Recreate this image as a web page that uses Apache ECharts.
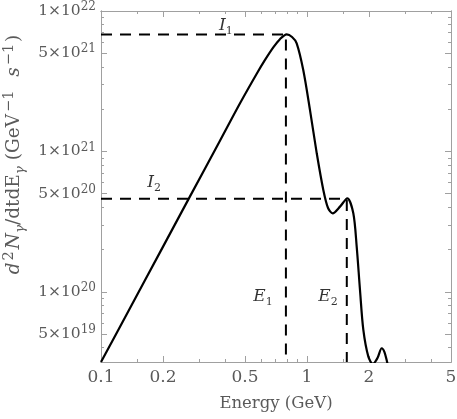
<!DOCTYPE html>
<html>
<head>
<meta charset="utf-8">
<script src="https://cdn.jsdelivr.net/npm/echarts@6/dist/echarts.min.js"></script>
<style>
  html, body { margin: 0; padding: 0; background: #fff; }
  #chart { width: 457px; height: 419px; }
</style>
</head>
<body>
<div id="chart"></div>
<script>
// spectrum (GeV, photons / GeV / s)
const energy = [0.1, 0.138, 0.193, 0.27, 0.378, 0.473, 0.57, 0.62, 0.686, 0.739, 0.797, 0.846, 0.891, 0.959, 1.034, 1.115, 1.2, 1.265, 1.333, 1.446, 1.569, 1.678, 1.743, 1.808, 1.877, 1.985, 2.089, 2.198, 2.305, 2.377, 2.455, 2.53];
const flux = [3.16e19, 7.6e19, 1.9e20, 4.76e20, 1.19e21, 2.2e21, 3.57e21, 4.39e21, 5.5e21, 6.3e21, 6.82e21, 6.53e21, 5.89e21, 3.8e21, 1.97e21, 9.69e20, 5.31e20, 3.95e20, 3.62e20, 4.04e20, 4.63e20, 3.62e20, 2.09e20, 1.03e20, 5.35e19, 3.45e19, 3.06e19, 3.37e19, 3.96e19, 3.72e19, 3.11e19, 2.7e19];

// the two marked peaks
const peakE = [0.79, 1.56];
const peakI = [6.8e21, 4.6e20];

// annotations
const noteLabels = ['I1', 'I2', 'E1', 'E2'];
const noteE = [0.404, 0.181, 0.611, 1.265];
const noteI = [7.9e21, 5.96e20, 9.2e19, 9.2e19];

// axes
const X_MIN = 0.1, X_MAX = 5;
const Y_MIN = 3.16e19, Y_MAX = 1e22;
const xMajor = [0.1, 0.2, 0.5, 1, 2, 5];
const xMinor = [0.15, 0.3, 0.4, 0.6, 0.7, 0.8, 0.9, 1.5, 3, 4];
const yMajor = [5e19, 1e20, 5e20, 1e21, 5e21, 1e22];
const yMinor = [4e19, 6e19, 7e19, 8e19, 9e19, 2e20, 3e20, 4e20, 6e20, 7e20, 8e20, 9e20, 2e21, 3e21, 4e21, 6e21, 7e21, 8e21, 9e21];

const lg = Math.log10;
const serif = 'DejaVu Serif';
const frameGray = '#a0a0a0';
const textGray = '#5a5a5a';

function xFmt(v) {
  return String(+Math.pow(10, v).toPrecision(3));
}

function yFmt(v) {
  const e = Math.floor(v + 1e-9);
  const m = Math.round(Math.pow(10, v - e));
  return '{m|' + m + '×10}{e|' + e + '}';
}

function makeAxis(dir, position, ticks, len, labels) {
  const isX = dir === 'x';
  const axis = {
    type: 'value',
    position: position,
    min: isX ? lg(X_MIN) : lg(Y_MIN),
    max: isX ? lg(X_MAX) : lg(Y_MAX),
    axisLine: { show: true, onZero: false, lineStyle: { color: frameGray, width: 1 } },
    axisTick: {
      show: true,
      inside: true,
      length: len,
      customValues: ticks.map(lg),
      lineStyle: { color: frameGray, width: 1 },
    },
    axisLabel: { show: false },
    splitLine: { show: false },
  };
  if (labels) {
    axis.axisLabel = isX
      ? {
          show: true,
          customValues: ticks.map(lg),
          formatter: xFmt,
          margin: 7,
          color: textGray,
          fontFamily: serif,
          fontSize: 17,
        }
      : {
          show: true,
          customValues: ticks.map(lg),
          formatter: yFmt,
          margin: 5,
          rich: {
            m: { fontFamily: serif, fontSize: 15.5, color: textGray, lineHeight: 20 },
            e: { fontFamily: serif, fontSize: 12, color: textGray, lineHeight: 12, verticalAlign: 'top' },
          },
        };
  }
  return axis;
}

const xAxes = [
  makeAxis('x', 'bottom', xMajor, 6, true),
  makeAxis('x', 'bottom', xMinor, 3, false),
  makeAxis('x', 'top', xMajor, 6, false),
  makeAxis('x', 'top', xMinor, 3, false),
];
xAxes[0].name = 'Energy (GeV)';
xAxes[0].nameLocation = 'middle';
xAxes[0].nameGap = 33;
xAxes[0].nameTextStyle = { fontFamily: serif, fontSize: 16.5, color: textGray };

const yAxes = [
  makeAxis('y', 'left', yMajor, 6, true),
  makeAxis('y', 'left', yMinor, 3, false),
  makeAxis('y', 'right', yMajor, 6, false),
  makeAxis('y', 'right', yMinor, 3, false),
];
yAxes[0].name = '{i|d}{sup|2}{i|N}{sub|γ}{r|/dtdE}{sub|γ}{r| (GeV}{sup|−1}{r|  }{i|s}{sup|−1}{r|)}';
yAxes[0].nameLocation = 'middle';
yAxes[0].nameGap = 72;
yAxes[0].nameRotate = 90;
yAxes[0].nameTextStyle = {
  padding: [0, 0, 0, 64],
  rich: {
    r: { fontFamily: serif, fontSize: 18.5, color: textGray, lineHeight: 26 },
    i: { fontFamily: serif, fontSize: 18.5, fontStyle: 'italic', color: textGray, lineHeight: 26 },
    sup: { fontFamily: serif, fontSize: 14.5, color: textGray, lineHeight: 14, verticalAlign: 'top', padding: [0, 2, 0, 2] },
    sub: { fontFamily: serif, fontSize: 13.5, fontStyle: 'italic', color: textGray, lineHeight: 13, verticalAlign: 'bottom' },
  },
};

const dashed = { color: '#000', width: 2, type: [11, 8] };

const guideSeries = peakE.map((e, k) => ({
  type: 'line',
  data: [
    [lg(X_MIN), lg(peakI[k])],
    [lg(e), lg(peakI[k])],
    [lg(e), lg(Y_MIN)],
  ],
  showSymbol: false,
  symbol: 'none',
  lineStyle: dashed,
  silent: true,
  z: 2,
}));

const option = {
  backgroundColor: '#fff',
  animation: false,
  grid: { left: 101, top: 11, right: 6, bottom: 57, containLabel: false, outerBoundsMode: 'none' },
  xAxis: xAxes,
  yAxis: yAxes,
  series: [
    ...guideSeries,
    {
      type: 'line',
      data: energy.map((e, k) => [lg(e), lg(flux[k])]),
      smooth: 0.3,
      showSymbol: false,
      symbol: 'none',
      lineStyle: { color: '#000', width: 2.2 },
      clip: true,
      z: 3,
    },
    {
      type: 'scatter',
      symbolSize: 0,
      data: noteLabels.map((n, k) => ({ name: n, value: [lg(noteE[k]), lg(noteI[k])] })),
      label: {
        show: true,
        position: 'inside',
        formatter: p => '{a|' + p.name[0] + '}{b|' + p.name.slice(1) + '}',
        rich: {
          a: { fontFamily: serif, fontSize: 17, fontStyle: 'italic', color: '#000', lineHeight: 22 },
          b: { fontFamily: serif, fontSize: 11, color: '#000', lineHeight: 11, verticalAlign: 'bottom' },
        },
      },
      silent: true,
      z: 4,
    },
  ],
};

const chart = echarts.init(document.getElementById('chart'));
chart.setOption(option);
window.addEventListener('resize', () => chart.resize());
</script>
</body>
</html>
